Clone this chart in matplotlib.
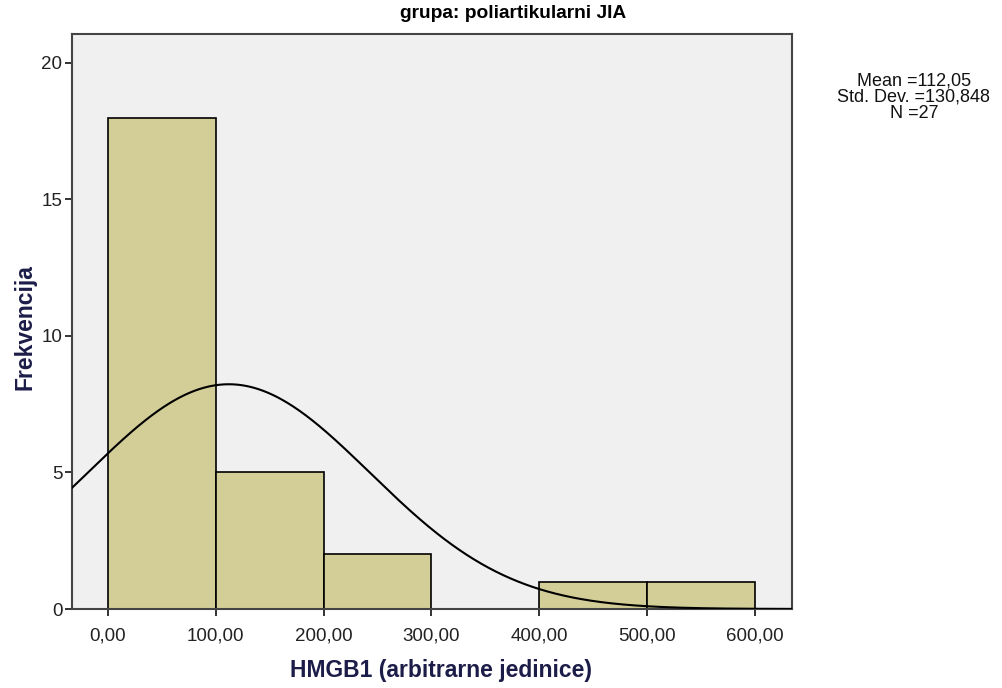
import numpy as np
import matplotlib
matplotlib.use("Agg")
import matplotlib.pyplot as plt

plt.rcParams['font.family'] = ['Liberation Sans', 'DejaVu Sans']

# histogram data (bin edges and counts)
bin_edges = [0, 100, 200, 300, 400, 500, 600]
counts = [18, 5, 2, 0, 1, 1]
mean_val = 112.05
std_val = 130.848
n_val = 27

x_ticks = [0, 100, 200, 300, 400, 500, 600]
x_tick_labels = ["0,00", "100,00", "200,00", "300,00", "400,00", "500,00", "600,00"]
y_ticks = [0, 5, 10, 15, 20]

bar_color = "#d3ce97"
label_color = "#1c1c48"

fig = plt.figure(figsize=(10.03, 6.88), dpi=100)
ax = fig.add_axes([72 / 1003, 1 - 609 / 688, 720 / 1003, 575 / 688])
ax.set_facecolor("#f0f0f0")

widths = np.diff(bin_edges)
ax.bar(bin_edges[:-1], counts, width=widths, align="edge",
       color=bar_color, edgecolor="black", linewidth=1.2, zorder=2)

# normal curve scaled to counts
xs = np.linspace(-40, 640, 600)
bw = bin_edges[1] - bin_edges[0]
ys = n_val * bw / (std_val * np.sqrt(2 * np.pi)) * np.exp(-0.5 * ((xs - mean_val) / std_val) ** 2)
ax.plot(xs, ys, color="black", linewidth=1.5, zorder=3)

ax.set_xlim(-33.4, 634.5)
ax.set_ylim(0, 21.06)
ax.set_xticks(x_ticks)
ax.set_xticklabels(x_tick_labels)
ax.set_yticks(y_ticks)
ax.tick_params(axis="both", direction="out", length=5, width=1.3,
               labelsize=13.5, colors="#222222", pad=2)
ax.tick_params(axis="x", pad=8)
for s in ax.spines.values():
    s.set_color("#444444")
    s.set_linewidth(1.5)

fig.text(513 / 1003, 1 - 13 / 688, "grupa: poliartikularni JIA", ha="center", va="center",
         fontsize=13.8, fontweight="bold", color="black")
fig.text(441 / 1003, 1 - 671 / 688, "HMGB1 (arbitrarne jedinice)", ha="center", va="center",
         fontsize=16.5, fontweight="bold", color=label_color)
fig.text(25 / 1003, 1 - 327 / 688, "Frekvencija", ha="center", va="center", rotation=90,
         fontsize=16.5, fontweight="bold", color=label_color)

stats = "Mean =112,05\nStd. Dev. =130,848\nN =27"
fig.text(914 / 1003, 1 - 97 / 688, stats, ha="center", va="center",
         fontsize=13, linespacing=0.95, color="#111111")

fig.savefig("out.png", dpi=100)
